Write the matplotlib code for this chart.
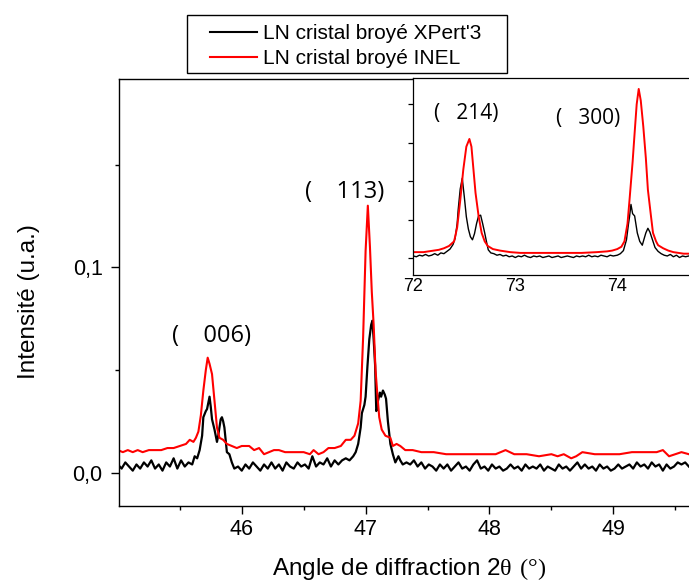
import matplotlib
matplotlib.use("Agg")
import matplotlib.pyplot as plt
import numpy as np
from matplotlib.lines import Line2D
from matplotlib.patches import Rectangle
from matplotlib.ticker import FixedLocator, MultipleLocator

# ---- main panel: 2theta 45-49.6 ----
blk_x = np.r_[
    np.arange(45.00, 45.605, 0.03),
    [45.62, 45.64, 45.66, 45.68, 45.69, 45.71, 45.72, 45.74, 45.75, 45.76, 45.78,
     45.80, 45.81, 45.83, 45.84, 45.85, 45.86, 45.88, 45.90, 45.92, 45.94],
    np.arange(45.97, 46.855, 0.03),
    [46.87, 46.90, 46.92, 46.94, 46.96, 46.97, 46.99, 47.00, 47.015, 47.03, 47.045,
     47.055, 47.065, 47.077, 47.086, 47.093, 47.10, 47.115, 47.125, 47.14, 47.155,
     47.165, 47.18, 47.20, 47.22, 47.24, 47.265, 47.28, 47.30],
    np.arange(47.33, 49.615, 0.03),
]
blk_y = [
    # 45.00 - 45.60
    0.004, 0.002, 0.005, 0.003, 0.001, 0.004, 0.002, 0.005, 0.003, 0.006,
    0.002, 0.004, 0.001, 0.005, 0.003, 0.007, 0.002, 0.006, 0.003, 0.005,
    0.004,
    # (006)
    0.008, 0.007, 0.011, 0.018, 0.027, 0.030, 0.031, 0.037, 0.032, 0.026, 0.021,
    0.015, 0.018, 0.026, 0.027, 0.025, 0.022, 0.010, 0.009, 0.005, 0.002,
    # 45.97 - 46.84
    0.003, 0.001, 0.004, 0.002, 0.005, 0.003, 0.001, 0.004, 0.002, 0.005,
    0.002, 0.004, 0.001, 0.005, 0.003, 0.002, 0.005, 0.003, 0.004, 0.002,
    0.008, 0.003, 0.005, 0.004, 0.007, 0.003, 0.006, 0.004, 0.006, 0.007,
    # (113)
    0.006, 0.008, 0.010, 0.014, 0.022, 0.029, 0.033, 0.037, 0.052, 0.065, 0.072,
    0.074, 0.065, 0.052, 0.030, 0.031, 0.035, 0.039, 0.037, 0.040, 0.038,
    0.036, 0.025, 0.014, 0.009, 0.005, 0.008, 0.006, 0.004,
    # 47.33 - 49.61
    0.005, 0.004, 0.006, 0.003, 0.005, 0.002, 0.004, 0.003, 0.001, 0.004,
    0.002, 0.004, 0.001, 0.003, 0.005, 0.002, 0.003, 0.001, 0.004, 0.006,
    0.002, 0.003, 0.001, 0.004, 0.002, 0.003, 0.001, 0.002, 0.004, 0.002,
    0.003, 0.001, 0.004, 0.002, 0.003, 0.002, 0.004, 0.001, 0.003, 0.002,
    0.001, 0.004, 0.002, 0.003, 0.001, 0.003, 0.005, 0.002, 0.004, 0.002,
    0.003, 0.001, 0.004, 0.002, 0.003, 0.001, 0.002, 0.004, 0.002, 0.003,
    0.004, 0.002, 0.005, 0.003, 0.004, 0.002, 0.005, 0.003, 0.004, 0.001,
    0.004, 0.002, 0.003, 0.005, 0.004, 0.005, 0.003,
]

red_x = [45.00, 45.04, 45.08, 45.12, 45.16, 45.20, 45.25, 45.30, 45.35, 45.40,
         45.45, 45.50, 45.55, 45.58, 45.61, 45.63, 45.65, 45.67, 45.69, 45.71,
         45.725, 45.74, 45.76, 45.78, 45.80, 45.82, 45.85, 45.88, 45.92, 45.96,
         46.00, 46.06, 46.10, 46.14, 46.18, 46.22, 46.26, 46.30, 46.35, 46.40,
         46.45, 46.50, 46.55, 46.58, 46.62, 46.66, 46.70, 46.75, 46.80, 46.84,
         46.88, 46.91, 46.94, 46.96, 46.98, 47.00, 47.018, 47.035, 47.05, 47.065,
         47.08, 47.095, 47.11, 47.13, 47.16, 47.20, 47.22, 47.25, 47.28, 47.32,
         47.38, 47.45, 47.55, 47.65, 47.75, 47.85, 47.95, 48.05, 48.13, 48.20,
         48.30, 48.40, 48.50, 48.55, 48.60, 48.66, 48.70, 48.75, 48.85, 48.95,
         49.05, 49.15, 49.25, 49.35, 49.40, 49.45, 49.50, 49.55, 49.61]
red_y = [0.011, 0.010, 0.011, 0.010, 0.011, 0.010, 0.011, 0.011, 0.011, 0.012,
         0.012, 0.013, 0.014, 0.016, 0.015, 0.017, 0.020, 0.028, 0.040, 0.050,
         0.056, 0.053, 0.048, 0.035, 0.022, 0.017, 0.016, 0.014, 0.013, 0.012,
         0.013, 0.013, 0.011, 0.012, 0.009, 0.010, 0.011, 0.011, 0.010, 0.010,
         0.010, 0.010, 0.009, 0.011, 0.009, 0.010, 0.012, 0.012, 0.013, 0.016,
         0.016, 0.018, 0.024, 0.035, 0.066, 0.108, 0.130, 0.110, 0.088, 0.072,
         0.050, 0.038, 0.027, 0.021, 0.018, 0.017, 0.013, 0.014, 0.013, 0.011,
         0.011, 0.010, 0.010, 0.009, 0.009, 0.009, 0.009, 0.009, 0.011, 0.009,
         0.009, 0.008, 0.009, 0.008, 0.009, 0.007, 0.008, 0.010, 0.009, 0.009,
         0.009, 0.010, 0.010, 0.010, 0.011, 0.008, 0.009, 0.010, 0.009]

# ---- inset: 2theta 72-74.7 ----
in_blk_x = np.r_[
    np.arange(72.00, 72.335, 0.03),
    [72.36, 72.39, 72.41, 72.43, 72.44, 72.46, 72.48, 72.50, 72.52, 72.54, 72.56,
     72.58, 72.60, 72.62, 72.64, 72.66, 72.68, 72.70, 72.72, 72.735, 72.76, 72.79],
    np.arange(72.82, 73.985, 0.03),
    [74.00, 74.03, 74.06, 74.09, 74.11, 74.12, 74.134, 74.15, 74.17, 74.196, 74.22,
     74.245, 74.26, 74.28, 74.30, 74.32, 74.35, 74.37, 74.40, 74.43, 74.46],
    np.arange(74.49, 74.705, 0.03),
]
in_blk_y = [
    0.003, 0.002, 0.004, 0.003, 0.005, 0.003, 0.004, 0.006, 0.004, 0.007,
    0.006, 0.009,
    # (214)
    0.012, 0.018, 0.026, 0.045, 0.063, 0.090, 0.104, 0.080, 0.054, 0.038, 0.028,
    0.024, 0.032, 0.045, 0.055, 0.056, 0.045, 0.033, 0.020, 0.011, 0.007, 0.006,
    # 72.82 - 73.96
    0.004, 0.005, 0.003, 0.004, 0.002, 0.003, 0.001, 0.003, 0.002, 0.004,
    0.002, 0.001, 0.003, 0.002, 0.003, 0.001, 0.002, 0.003, 0.001, 0.002,
    0.003, 0.001, 0.002, 0.003, 0.002, 0.001, 0.003, 0.002, 0.003, 0.002,
    0.004, 0.002, 0.003, 0.002, 0.004, 0.003, 0.002, 0.004, 0.003,
    # (300)
    0.004, 0.006, 0.010, 0.024, 0.045, 0.054, 0.070, 0.058, 0.055, 0.033, 0.022,
    0.017, 0.024, 0.033, 0.039, 0.034, 0.022, 0.014, 0.009, 0.006, 0.004,
    # 74.49 - 74.70
    0.003, 0.005, 0.002, 0.004, 0.001, 0.003, 0.002, 0.003,
]

in_red_x = [72.00, 72.05, 72.10, 72.15, 72.20, 72.25, 72.30, 72.35, 72.40, 72.43,
            72.46, 72.49, 72.52, 72.55, 72.57, 72.59, 72.61, 72.64, 72.67, 72.70,
            72.73, 72.78, 72.85, 72.95, 73.05, 73.20, 73.35, 73.50, 73.65, 73.80,
            73.90, 73.95, 74.00, 74.04, 74.07, 74.10, 74.12, 74.15, 74.17, 74.19,
            74.21, 74.23, 74.255, 74.28, 74.30, 74.33, 74.35, 74.38, 74.40, 74.45,
            74.50, 74.55, 74.60, 74.65, 74.70]
in_red_y = [0.008, 0.008, 0.008, 0.009, 0.010, 0.011, 0.013, 0.016, 0.022, 0.040,
            0.075, 0.115, 0.145, 0.155, 0.145, 0.115, 0.085, 0.055, 0.033, 0.022,
            0.016, 0.012, 0.010, 0.008, 0.007, 0.007, 0.007, 0.007, 0.007, 0.008,
            0.009, 0.010, 0.012, 0.015, 0.022, 0.045, 0.076, 0.125, 0.163, 0.200,
            0.220, 0.205, 0.171, 0.130, 0.089, 0.055, 0.033, 0.022, 0.017, 0.013,
            0.010, 0.008, 0.007, 0.006, 0.006]

labels = ["LN cristal broyé XPert'3", "LN cristal broyé INEL"]
colors = ["black", "#ff0000"]
peaks_main = [("(    006)", 45.758, 0.0635), ("(    113)", 46.828, 0.1336)]
peaks_inset = [("(   214)", 72.52, 0.1805), ("(   300)", 73.711, 0.1744)]

plt.rcParams["font.family"] = ["Liberation Sans", "DejaVu Sans"]
plt.rcParams["mathtext.fontset"] = "custom"
plt.rcParams["mathtext.rm"] = "Liberation Serif"

W, H = 689, 584
fig = plt.figure(figsize=(W / 100, H / 100), dpi=100)

ax = fig.add_axes([119 / W, 1 - 505.7 / H, 570 / W, (505.7 - 79) / H])
ax.plot(blk_x, blk_y, color=colors[0], lw=1.6)
ax.plot(red_x, red_y, color=colors[1], lw=1.5)
ax.set_xlim(45.009, 49.611)
ax.set_ylim(-0.01607, 0.19167)
ax.spines["right"].set_visible(False)
for s in ax.spines.values():
    s.set_linewidth(1.0)
ax.xaxis.set_major_locator(FixedLocator([46, 47, 48, 49]))
ax.xaxis.set_minor_locator(MultipleLocator(0.5))
ax.set_yticks([0.0, 0.1])
ax.set_yticklabels(["0,0", "0,1"])
ax.yaxis.set_minor_locator(FixedLocator([0.05, 0.15]))
ax.tick_params(which="major", direction="out", length=5.8, width=1.0,
               labelsize=15.5, pad=4)
ax.tick_params(axis="y", which="major", pad=6)
ax.tick_params(which="minor", direction="out", length=3.2, width=1.0)
ax.set_ylabel("Intensité (u.a.)", fontsize=17.5)
ax.yaxis.set_label_coords(-0.138, 0.478)
ax.set_xlabel("Angle de diffraction 2$\\mathrm{θ\\ (°)}$", fontsize=17.5)
ax.xaxis.set_label_coords(0.5088, -0.118)
for txt, x, y in peaks_main:
    ax.text(x, y, txt, fontsize=17, family="Open Sans", ha="center", va="baseline")

axin = fig.add_axes([413.3 / W, 1 - 275 / H, (W - 413.3) / W, (275 - 78.3) / H])
axin.plot(in_blk_x, in_blk_y, color=colors[0], lw=1.0)
axin.plot(in_red_x, in_red_y, color=colors[1], lw=1.4)
axin.set_xlim(72.0, 74.703)
axin.set_ylim(-0.0217, 0.2338)
axin.spines["right"].set_visible(False)
for s in axin.spines.values():
    s.set_linewidth(0.9)
axin.set_xticks([72, 73, 74])
axin.set_yticks(np.arange(0, 0.21, 0.05))
axin.set_yticklabels([])
axin.tick_params(axis="x", length=0, labelsize=13, pad=2)
axin.tick_params(axis="y", direction="out", length=3.6, width=0.9)
for txt, x, y in peaks_inset:
    axin.text(x, y, txt, fontsize=15, family="Open Sans", ha="center", va="baseline")

# legend box drawn in figure pixels
fig.add_artist(Rectangle((187.3 / W, 1 - 72.7 / H), 320 / W, 57.7 / H,
                         transform=fig.transFigure, fill=False,
                         edgecolor="black", linewidth=1.0))
for lab, col, ly, base in zip(labels, colors, [32.3, 56.7], [39, 64]):
    fig.add_artist(Line2D([210 / W, 256.7 / W], [1 - ly / H] * 2,
                          transform=fig.transFigure, color=col, lw=1.5))
    fig.text(263.3 / W, 1 - base / H, lab, fontsize=15, va="baseline")

fig.savefig("out.png", dpi=100)
